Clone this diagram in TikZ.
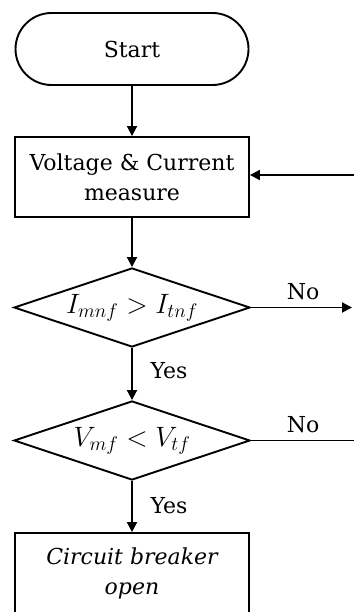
\documentclass[tikz,border=0pt]{standalone}
\usepackage{fix-cm}
\usepackage{fontspec}
\setmainfont{DejaVu Serif}
\usetikzlibrary{shapes.geometric,arrows.meta}
\begin{document}
\begin{tikzpicture}[x=1pt,y=-1pt,
  line width=1.9pt,
  every node/.style={font=\fontsize{22}{30}\selectfont},
  flow/.style={-{Triangle[length=10pt,width=10pt]}},
  procbox/.style={draw,rectangle,minimum width=234pt,minimum height=80pt,align=center,inner sep=0pt},
  decision/.style={draw,diamond,aspect=3,minimum width=236pt,minimum height=79pt,inner sep=0pt,font=\fontsize{28}{30}\selectfont},
  lbl/.style={inner sep=0pt}]
\useasboundingbox (0,0) rectangle (353,612);
\node[draw,rectangle,rounded corners=36pt,minimum width=233pt,minimum height=72pt] (start) at (132,49) {Start};
\node[procbox] (meas) at (132,177) {Voltage \& Current\\measure};
\node[decision] (d1) at (132,307.5) {$I_{mnf} > I_{tnf}$};
\node[decision] (d2) at (132,440.5) {$V_{mf} < V_{tf}$};
\node[procbox] (cb) at (132,573) {\itshape Circuit breaker\\\itshape open};
\coordinate (fb) at (356,175);
\coordinate (no1) at (352,307.5);
\coordinate (no2) at (356,440.5);
\draw[flow] (start.south) -- (meas.north);
\draw[flow] (fb) -- (fb -| meas.east);
\draw[flow] (meas.south) -- (d1.north);
\draw[flow] (d1.south) -- (d2.north);
\draw[flow] (d2.south) -- (cb.north);
\draw[flow] (d1.east) -- (no1);
\draw (d2.east) -- (no2);
\node[lbl] (no1l) at (303,292) {No};
\node[lbl] (no2l) at (303,425) {No};
\node[lbl] (y1) at (169,371) {Yes};
\node[lbl] (y2) at (169,506) {Yes};
\end{tikzpicture}
\end{document}
